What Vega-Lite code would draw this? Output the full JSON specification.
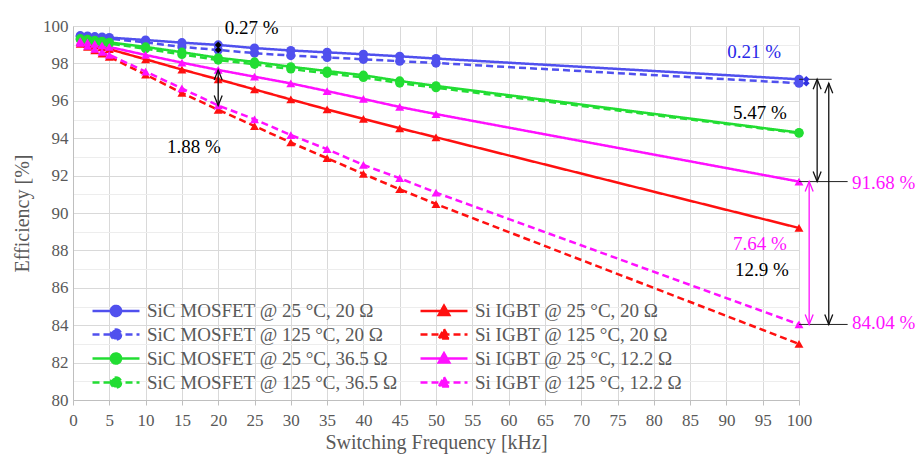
{
  "$schema": "https://vega.github.io/schema/vega-lite/v6.json",
  "width": 726,
  "height": 374,
  "autosize": {"type": "none"},
  "padding": {"left": 73, "top": 26, "right": 125, "bottom": 62},
  "background": "white",
  "config": {
    "view": {"stroke": null},
    "font": "Liberation Serif",
    "axis": {"labelOverlap": false, "labelSeparation": 0, "labelFont": "Liberation Serif", "titleFont": "Liberation Serif"},
    "legend": {"labelFont": "Liberation Serif"}
  },
  "datasets": {
    "eff": [
      {"series": "SiC MOSFET @ 25 °C, 20 Ω", "f": 1, "e": 99.48},
      {"series": "SiC MOSFET @ 25 °C, 20 Ω", "f": 2, "e": 99.46},
      {"series": "SiC MOSFET @ 25 °C, 20 Ω", "f": 3, "e": 99.43},
      {"series": "SiC MOSFET @ 25 °C, 20 Ω", "f": 4, "e": 99.41},
      {"series": "SiC MOSFET @ 25 °C, 20 Ω", "f": 5, "e": 99.38},
      {"series": "SiC MOSFET @ 25 °C, 20 Ω", "f": 10, "e": 99.25},
      {"series": "SiC MOSFET @ 25 °C, 20 Ω", "f": 15, "e": 99.11},
      {"series": "SiC MOSFET @ 25 °C, 20 Ω", "f": 20, "e": 98.99},
      {"series": "SiC MOSFET @ 25 °C, 20 Ω", "f": 25, "e": 98.82},
      {"series": "SiC MOSFET @ 25 °C, 20 Ω", "f": 30, "e": 98.69},
      {"series": "SiC MOSFET @ 25 °C, 20 Ω", "f": 35, "e": 98.59},
      {"series": "SiC MOSFET @ 25 °C, 20 Ω", "f": 40, "e": 98.49},
      {"series": "SiC MOSFET @ 25 °C, 20 Ω", "f": 45, "e": 98.38},
      {"series": "SiC MOSFET @ 25 °C, 20 Ω", "f": 50, "e": 98.26},
      {"series": "SiC MOSFET @ 25 °C, 20 Ω", "f": 100, "e": 97.15},
      {"series": "SiC MOSFET @ 125 °C, 20 Ω", "f": 1, "e": 99.44},
      {"series": "SiC MOSFET @ 125 °C, 20 Ω", "f": 2, "e": 99.41},
      {"series": "SiC MOSFET @ 125 °C, 20 Ω", "f": 3, "e": 99.38},
      {"series": "SiC MOSFET @ 125 °C, 20 Ω", "f": 4, "e": 99.35},
      {"series": "SiC MOSFET @ 125 °C, 20 Ω", "f": 5, "e": 99.32},
      {"series": "SiC MOSFET @ 125 °C, 20 Ω", "f": 10, "e": 99.12},
      {"series": "SiC MOSFET @ 125 °C, 20 Ω", "f": 15, "e": 98.88},
      {"series": "SiC MOSFET @ 125 °C, 20 Ω", "f": 20, "e": 98.72},
      {"series": "SiC MOSFET @ 125 °C, 20 Ω", "f": 25, "e": 98.55},
      {"series": "SiC MOSFET @ 125 °C, 20 Ω", "f": 30, "e": 98.42},
      {"series": "SiC MOSFET @ 125 °C, 20 Ω", "f": 35, "e": 98.32},
      {"series": "SiC MOSFET @ 125 °C, 20 Ω", "f": 40, "e": 98.22},
      {"series": "SiC MOSFET @ 125 °C, 20 Ω", "f": 45, "e": 98.12},
      {"series": "SiC MOSFET @ 125 °C, 20 Ω", "f": 50, "e": 98.02},
      {"series": "SiC MOSFET @ 125 °C, 20 Ω", "f": 100, "e": 96.94},
      {"series": "SiC MOSFET @ 25 °C, 36.5 Ω", "f": 1, "e": 99.32},
      {"series": "SiC MOSFET @ 25 °C, 36.5 Ω", "f": 2, "e": 99.28},
      {"series": "SiC MOSFET @ 25 °C, 36.5 Ω", "f": 3, "e": 99.23},
      {"series": "SiC MOSFET @ 25 °C, 36.5 Ω", "f": 4, "e": 99.18},
      {"series": "SiC MOSFET @ 25 °C, 36.5 Ω", "f": 5, "e": 99.13},
      {"series": "SiC MOSFET @ 25 °C, 36.5 Ω", "f": 10, "e": 98.88},
      {"series": "SiC MOSFET @ 25 °C, 36.5 Ω", "f": 15, "e": 98.6},
      {"series": "SiC MOSFET @ 25 °C, 36.5 Ω", "f": 20, "e": 98.3},
      {"series": "SiC MOSFET @ 25 °C, 36.5 Ω", "f": 25, "e": 98.08},
      {"series": "SiC MOSFET @ 25 °C, 36.5 Ω", "f": 30, "e": 97.82},
      {"series": "SiC MOSFET @ 25 °C, 36.5 Ω", "f": 35, "e": 97.59},
      {"series": "SiC MOSFET @ 25 °C, 36.5 Ω", "f": 40, "e": 97.37},
      {"series": "SiC MOSFET @ 25 °C, 36.5 Ω", "f": 45, "e": 97.06},
      {"series": "SiC MOSFET @ 25 °C, 36.5 Ω", "f": 50, "e": 96.8},
      {"series": "SiC MOSFET @ 25 °C, 36.5 Ω", "f": 100, "e": 94.3},
      {"series": "SiC MOSFET @ 125 °C, 36.5 Ω", "f": 1, "e": 99.28},
      {"series": "SiC MOSFET @ 125 °C, 36.5 Ω", "f": 2, "e": 99.23},
      {"series": "SiC MOSFET @ 125 °C, 36.5 Ω", "f": 3, "e": 99.17},
      {"series": "SiC MOSFET @ 125 °C, 36.5 Ω", "f": 4, "e": 99.12},
      {"series": "SiC MOSFET @ 125 °C, 36.5 Ω", "f": 5, "e": 99.07},
      {"series": "SiC MOSFET @ 125 °C, 36.5 Ω", "f": 10, "e": 98.78},
      {"series": "SiC MOSFET @ 125 °C, 36.5 Ω", "f": 15, "e": 98.48},
      {"series": "SiC MOSFET @ 125 °C, 36.5 Ω", "f": 20, "e": 98.18},
      {"series": "SiC MOSFET @ 125 °C, 36.5 Ω", "f": 25, "e": 97.95},
      {"series": "SiC MOSFET @ 125 °C, 36.5 Ω", "f": 30, "e": 97.7},
      {"series": "SiC MOSFET @ 125 °C, 36.5 Ω", "f": 35, "e": 97.47},
      {"series": "SiC MOSFET @ 125 °C, 36.5 Ω", "f": 40, "e": 97.25},
      {"series": "SiC MOSFET @ 125 °C, 36.5 Ω", "f": 45, "e": 96.95},
      {"series": "SiC MOSFET @ 125 °C, 36.5 Ω", "f": 50, "e": 96.7},
      {"series": "SiC MOSFET @ 125 °C, 36.5 Ω", "f": 100, "e": 94.27},
      {"series": "Si IGBT @ 25 °C, 20 Ω", "f": 1, "e": 99.15},
      {"series": "Si IGBT @ 25 °C, 20 Ω", "f": 2, "e": 99.05},
      {"series": "Si IGBT @ 25 °C, 20 Ω", "f": 3, "e": 98.95},
      {"series": "Si IGBT @ 25 °C, 20 Ω", "f": 4, "e": 98.86},
      {"series": "Si IGBT @ 25 °C, 20 Ω", "f": 5, "e": 98.76},
      {"series": "Si IGBT @ 25 °C, 20 Ω", "f": 10, "e": 98.22},
      {"series": "Si IGBT @ 25 °C, 20 Ω", "f": 15, "e": 97.67},
      {"series": "Si IGBT @ 25 °C, 20 Ω", "f": 20, "e": 97.15},
      {"series": "Si IGBT @ 25 °C, 20 Ω", "f": 25, "e": 96.61},
      {"series": "Si IGBT @ 25 °C, 20 Ω", "f": 30, "e": 96.07},
      {"series": "Si IGBT @ 25 °C, 20 Ω", "f": 35, "e": 95.54},
      {"series": "Si IGBT @ 25 °C, 20 Ω", "f": 40, "e": 95.03},
      {"series": "Si IGBT @ 25 °C, 20 Ω", "f": 45, "e": 94.53},
      {"series": "Si IGBT @ 25 °C, 20 Ω", "f": 50, "e": 94.05},
      {"series": "Si IGBT @ 25 °C, 20 Ω", "f": 100, "e": 89.2},
      {"series": "Si IGBT @ 125 °C, 20 Ω", "f": 1, "e": 99.05},
      {"series": "Si IGBT @ 125 °C, 20 Ω", "f": 2, "e": 98.88},
      {"series": "Si IGBT @ 125 °C, 20 Ω", "f": 3, "e": 98.7},
      {"series": "Si IGBT @ 125 °C, 20 Ω", "f": 4, "e": 98.52},
      {"series": "Si IGBT @ 125 °C, 20 Ω", "f": 5, "e": 98.35},
      {"series": "Si IGBT @ 125 °C, 20 Ω", "f": 10, "e": 97.4},
      {"series": "Si IGBT @ 125 °C, 20 Ω", "f": 15, "e": 96.42},
      {"series": "Si IGBT @ 125 °C, 20 Ω", "f": 20, "e": 95.52},
      {"series": "Si IGBT @ 125 °C, 20 Ω", "f": 25, "e": 94.65},
      {"series": "Si IGBT @ 125 °C, 20 Ω", "f": 30, "e": 93.77},
      {"series": "Si IGBT @ 125 °C, 20 Ω", "f": 35, "e": 92.93},
      {"series": "Si IGBT @ 125 °C, 20 Ω", "f": 40, "e": 92.09},
      {"series": "Si IGBT @ 125 °C, 20 Ω", "f": 45, "e": 91.27},
      {"series": "Si IGBT @ 125 °C, 20 Ω", "f": 50, "e": 90.48},
      {"series": "Si IGBT @ 125 °C, 20 Ω", "f": 100, "e": 83.0},
      {"series": "Si IGBT @ 25 °C, 12.2 Ω", "f": 1, "e": 99.2},
      {"series": "Si IGBT @ 25 °C, 12.2 Ω", "f": 2, "e": 99.12},
      {"series": "Si IGBT @ 25 °C, 12.2 Ω", "f": 3, "e": 99.04},
      {"series": "Si IGBT @ 25 °C, 12.2 Ω", "f": 4, "e": 98.96},
      {"series": "Si IGBT @ 25 °C, 12.2 Ω", "f": 5, "e": 98.88},
      {"series": "Si IGBT @ 25 °C, 12.2 Ω", "f": 10, "e": 98.45},
      {"series": "Si IGBT @ 25 °C, 12.2 Ω", "f": 15, "e": 98.04},
      {"series": "Si IGBT @ 25 °C, 12.2 Ω", "f": 20, "e": 97.65},
      {"series": "Si IGBT @ 25 °C, 12.2 Ω", "f": 25, "e": 97.29},
      {"series": "Si IGBT @ 25 °C, 12.2 Ω", "f": 30, "e": 96.93},
      {"series": "Si IGBT @ 25 °C, 12.2 Ω", "f": 35, "e": 96.52},
      {"series": "Si IGBT @ 25 °C, 12.2 Ω", "f": 40, "e": 96.1},
      {"series": "Si IGBT @ 25 °C, 12.2 Ω", "f": 45, "e": 95.67},
      {"series": "Si IGBT @ 25 °C, 12.2 Ω", "f": 50, "e": 95.29},
      {"series": "Si IGBT @ 25 °C, 12.2 Ω", "f": 100, "e": 91.68},
      {"series": "Si IGBT @ 125 °C, 12.2 Ω", "f": 1, "e": 99.1},
      {"series": "Si IGBT @ 125 °C, 12.2 Ω", "f": 2, "e": 98.94},
      {"series": "Si IGBT @ 125 °C, 12.2 Ω", "f": 3, "e": 98.78},
      {"series": "Si IGBT @ 125 °C, 12.2 Ω", "f": 4, "e": 98.62},
      {"series": "Si IGBT @ 125 °C, 12.2 Ω", "f": 5, "e": 98.46},
      {"series": "Si IGBT @ 125 °C, 12.2 Ω", "f": 10, "e": 97.56},
      {"series": "Si IGBT @ 125 °C, 12.2 Ω", "f": 15, "e": 96.66},
      {"series": "Si IGBT @ 125 °C, 12.2 Ω", "f": 20, "e": 95.75},
      {"series": "Si IGBT @ 125 °C, 12.2 Ω", "f": 25, "e": 95.01},
      {"series": "Si IGBT @ 125 °C, 12.2 Ω", "f": 30, "e": 94.17},
      {"series": "Si IGBT @ 125 °C, 12.2 Ω", "f": 35, "e": 93.41},
      {"series": "Si IGBT @ 125 °C, 12.2 Ω", "f": 40, "e": 92.57},
      {"series": "Si IGBT @ 125 °C, 12.2 Ω", "f": 45, "e": 91.86},
      {"series": "Si IGBT @ 125 °C, 12.2 Ω", "f": 50, "e": 91.09},
      {"series": "Si IGBT @ 125 °C, 12.2 Ω", "f": 100, "e": 84.04}
    ],
    "blackArrows": [
      {"f": 20, "e": 97.65, "e2": 95.75},
      {"f": 102.5, "e": 97.15, "e2": 91.68},
      {"f": 104.1, "e": 96.94, "e2": 84.04}
    ],
    "magentaArrows": [
      {"f": 101.4, "e": 91.68, "e2": 84.04}
    ],
    "hlines": [
      {"e": 97.15, "f": 100, "f2": 104.5},
      {"e": 91.68, "f": 100, "f2": 106.7},
      {"e": 84.04, "f": 100, "f2": 106.7}
    ],
    "blackDiamonds": [
      {"f": 20, "e": 98.99},
      {"f": 20, "e": 98.72}
    ],
    "blueDiamonds": [
      {"f": 101, "e": 97.15},
      {"f": 101, "e": 96.94}
    ],
    "blackText": [
      {"f": 20.9, "e": 99.9, "t": "0.27 %"},
      {"f": 12.95, "e": 93.53, "t": "1.88 %"},
      {"f": 90.9, "e": 95.35, "t": "5.47 %"},
      {"f": 91.2, "e": 86.95, "t": "12.9 %"}
    ],
    "blueText": [
      {"f": 90.1, "e": 98.6, "t": "0.21 %"}
    ],
    "magentaText": [
      {"f": 90.9, "e": 88.34, "t": "7.64 %"},
      {"f": 107.3, "e": 91.6, "t": "91.68 %"},
      {"f": 107.3, "e": 84.1, "t": "84.04 %"}
    ]
  },
  "layer": [
    {
      "data": {"name": "eff"},
      "mark": {"type": "line", "strokeWidth": 2.5},
      "encoding": {
        "x": {
          "field": "f", "type": "quantitative",
          "scale": {"domain": [0, 100], "nice": false},
          "axis": {
            "title": "Switching Frequency [kHz]",
            "values": [0,5,10,15,20,25,30,35,40,45,50,55,60,65,70,75,80,85,90,95,100],
            "tickCount": 30,
            "format": "d",
            "labelOverlap": false,
            "grid": true, "gridColor": "#D9D9D9", "gridWidth": 1,
            "domainColor": "#BFBFBF", "tickColor": "#BFBFBF", "tickSize": 5,
            "labelFontSize": 17, "labelColor": "#595959",
            "labelPadding": 7, "labelFlush": false,
            "titleFontSize": 20, "titleColor": "#595959",
            "titleFontWeight": "normal", "titlePadding": 4
          }
        },
        "y": {
          "field": "e", "type": "quantitative",
          "scale": {"domain": [80, 100], "nice": false, "zero": false},
          "axis": {
            "title": "Efficiency  [%]",
            "values": [80,81,82,83,84,85,86,87,88,89,90,91,92,93,94,95,96,97,98,99,100],
            "tickCount": 30,
            "format": "d",
            "labelExpr": "datum.value % 2 === 0 ? datum.label : ''",
            "labelOverlap": false,
            "grid": true,
            "gridColor": {"condition": {"test": "datum.value % 2 === 0", "value": "#D9D9D9"}, "value": "#EDEDED"},
            "ticks": false,
            "domainColor": "#BFBFBF",
            "labelFontSize": 17, "labelColor": "#595959",
            "labelPadding": 5,
            "titleFontSize": 20, "titleColor": "#595959",
            "titleFontWeight": "normal", "titlePadding": 10
          }
        },
        "color": {
          "field": "series", "type": "nominal",
          "scale": {
            "domain": ["SiC MOSFET @ 25 °C, 20 Ω", "SiC MOSFET @ 125 °C, 20 Ω", "SiC MOSFET @ 25 °C, 36.5 Ω", "SiC MOSFET @ 125 °C, 36.5 Ω", "Si IGBT @ 25 °C, 20 Ω", "Si IGBT @ 125 °C, 20 Ω", "Si IGBT @ 25 °C, 12.2 Ω", "Si IGBT @ 125 °C, 12.2 Ω"],
            "range": ["#5050EE", "#5050EE", "#22DD33", "#22DD33", "#FF1010", "#FF1010", "#FF10FF", "#FF10FF"]
          },
          "legend": {
            "title": null,
            "orient": "none",
            "legendX": 20,
            "legendY": 271.5,
            "columns": 2,
            "columnPadding": 17,
            "rowPadding": -1.2,
            "padding": 0,
            "labelFontSize": 19,
            "labelColor": "#595959",
            "labelLimit": 400,
            "symbolSize": 552,
            "symbolOffset": 10,
            "labelOffset": 18,
            "symbolStrokeWidth": 2.5,
            "encode": {
              "symbols": {
                "update": {
                  "shape": {"signal": "test(/SiC/, datum.label) ? 'M-2,0L2,0M0.43,0A0.43,0.43,0,1,1,-0.43,0A0.43,0.43,0,1,1,0.43,0Z' : 'M-2,0L2,0M0,-0.45L0.45,0.35L-0.45,0.35Z'"},
                  "fill": {"scale": "color", "field": "value"},
                  "stroke": {"scale": "color", "field": "value"},
                  "strokeWidth": {"value": 2.5},
                  "size": {"value": 552}
                }
              }
            }
          }
        },
        "strokeDash": {
          "field": "series", "type": "nominal",
          "scale": {
            "domain": ["SiC MOSFET @ 25 °C, 20 Ω", "SiC MOSFET @ 125 °C, 20 Ω", "SiC MOSFET @ 25 °C, 36.5 Ω", "SiC MOSFET @ 125 °C, 36.5 Ω", "Si IGBT @ 25 °C, 20 Ω", "Si IGBT @ 125 °C, 20 Ω", "Si IGBT @ 25 °C, 12.2 Ω", "Si IGBT @ 125 °C, 12.2 Ω"],
            "range": [[1, 0], [7, 4], [1, 0], [7, 4], [1, 0], [7, 4], [1, 0], [7, 4]]
          }
        }
      }
    },
    {
      "data": {"name": "eff"},
      "transform": [{"filter": {"field": "series", "oneOf": ["SiC MOSFET @ 25 °C, 20 Ω", "SiC MOSFET @ 125 °C, 20 Ω", "SiC MOSFET @ 25 °C, 36.5 Ω", "SiC MOSFET @ 125 °C, 36.5 Ω"]}}],
      "mark": {"type": "point", "shape": "circle", "filled": true, "opacity": 1, "size": 85},
      "encoding": {
        "x": {"field": "f", "type": "quantitative"},
        "y": {"field": "e", "type": "quantitative"},
        "color": {"field": "series", "type": "nominal", "legend": null}
      }
    },
    {
      "data": {"name": "eff"},
      "transform": [{"filter": {"field": "series", "oneOf": ["Si IGBT @ 25 °C, 20 Ω", "Si IGBT @ 125 °C, 20 Ω", "Si IGBT @ 25 °C, 12.2 Ω", "Si IGBT @ 125 °C, 12.2 Ω"]}}],
      "mark": {"type": "point", "shape": "triangle-up", "filled": true, "opacity": 1, "size": 80},
      "encoding": {
        "x": {"field": "f", "type": "quantitative"},
        "y": {"field": "e", "type": "quantitative"},
        "color": {"field": "series", "type": "nominal", "legend": null}
      }
    },
    {
      "data": {"name": "hlines"},
      "mark": {"type": "rule", "color": "#222222", "strokeWidth": 1},
      "encoding": {
        "x": {"field": "f", "type": "quantitative"},
        "x2": {"field": "f2"},
        "y": {"field": "e", "type": "quantitative"}
      }
    },
    {
      "data": {"name": "blackArrows"},
      "mark": {"type": "rule", "color": "#111111", "strokeWidth": 1.3},
      "encoding": {
        "x": {"field": "f", "type": "quantitative"},
        "y": {"field": "e", "type": "quantitative"},
        "y2": {"field": "e2"}
      }
    },
    {
      "data": {"name": "blackArrows"},
      "mark": {"type": "point", "shape": "M-0.4,1L0,0L0.4,1", "filled": false, "size": 400, "color": "#111111", "strokeWidth": 1.3, "opacity": 1},
      "encoding": {
        "x": {"field": "f", "type": "quantitative"},
        "y": {"field": "e", "type": "quantitative"}
      }
    },
    {
      "data": {"name": "blackArrows"},
      "mark": {"type": "point", "shape": "M-0.4,-1L0,0L0.4,-1", "filled": false, "size": 400, "color": "#111111", "strokeWidth": 1.3, "opacity": 1},
      "encoding": {
        "x": {"field": "f", "type": "quantitative"},
        "y": {"field": "e2", "type": "quantitative"}
      }
    },
    {
      "data": {"name": "magentaArrows"},
      "mark": {"type": "rule", "color": "#FF10FF", "strokeWidth": 1.3},
      "encoding": {
        "x": {"field": "f", "type": "quantitative"},
        "y": {"field": "e", "type": "quantitative"},
        "y2": {"field": "e2"}
      }
    },
    {
      "data": {"name": "magentaArrows"},
      "mark": {"type": "point", "shape": "M-0.4,1L0,0L0.4,1", "filled": false, "size": 400, "color": "#FF10FF", "strokeWidth": 1.3, "opacity": 1},
      "encoding": {
        "x": {"field": "f", "type": "quantitative"},
        "y": {"field": "e", "type": "quantitative"}
      }
    },
    {
      "data": {"name": "magentaArrows"},
      "mark": {"type": "point", "shape": "M-0.4,-1L0,0L0.4,-1", "filled": false, "size": 400, "color": "#FF10FF", "strokeWidth": 1.3, "opacity": 1},
      "encoding": {
        "x": {"field": "f", "type": "quantitative"},
        "y": {"field": "e2", "type": "quantitative"}
      }
    },
    {
      "data": {"name": "blackDiamonds"},
      "mark": {"type": "point", "shape": "diamond", "filled": true, "size": 45, "color": "#000000", "opacity": 1},
      "encoding": {
        "x": {"field": "f", "type": "quantitative"},
        "y": {"field": "e", "type": "quantitative"}
      }
    },
    {
      "data": {"name": "blueDiamonds"},
      "mark": {"type": "point", "shape": "diamond", "filled": true, "size": 45, "color": "#3030E0", "opacity": 1},
      "encoding": {
        "x": {"field": "f", "type": "quantitative"},
        "y": {"field": "e", "type": "quantitative"}
      }
    },
    {
      "data": {"name": "blackText"},
      "mark": {"type": "text", "align": "left", "baseline": "middle", "fontSize": 19, "font": "Liberation Serif", "color": "#000000"},
      "encoding": {
        "x": {"field": "f", "type": "quantitative"},
        "y": {"field": "e", "type": "quantitative"},
        "text": {"field": "t"}
      }
    },
    {
      "data": {"name": "blueText"},
      "mark": {"type": "text", "align": "left", "baseline": "middle", "fontSize": 19, "font": "Liberation Serif", "color": "#2828E8"},
      "encoding": {
        "x": {"field": "f", "type": "quantitative"},
        "y": {"field": "e", "type": "quantitative"},
        "text": {"field": "t"}
      }
    },
    {
      "data": {"name": "magentaText"},
      "mark": {"type": "text", "align": "left", "baseline": "middle", "fontSize": 19, "font": "Liberation Serif", "color": "#FF10FF"},
      "encoding": {
        "x": {"field": "f", "type": "quantitative"},
        "y": {"field": "e", "type": "quantitative"},
        "text": {"field": "t"}
      }
    }
  ]
}
